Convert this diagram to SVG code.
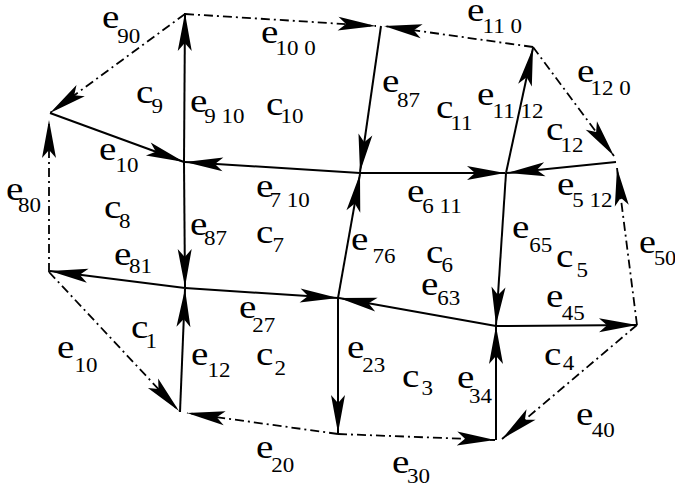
<svg xmlns="http://www.w3.org/2000/svg" width="675" height="491" viewBox="0 0 675 491" font-family="Liberation Serif, serif">
<style>
.s{stroke:#000;stroke-width:2;fill:none;marker-end:url(#ah)}
.d{stroke:#000;stroke-width:1.8;fill:none;stroke-dasharray:9 4 2 4;marker-end:url(#ah)}
.t{font-family:'Liberation Serif',serif;font-size:34px;fill:#000}
.t tspan{font-size:20px}
</style>
<defs>
<marker id="ah" markerUnits="userSpaceOnUse" viewBox="-40 -8 41 16" markerWidth="41" markerHeight="16" refX="0" refY="0" orient="auto" overflow="visible">
<path d="M0,0 L-38,-7 L-30,0 L-38,7 Z" fill="#000"/>
</marker>
</defs>
<rect width="675" height="491" fill="#fff"/>
<g id="connectors">
<g id="e_90"><line class="d" x1="185" y1="14" x2="50" y2="113"/><text class="t" font-family="Liberation Serif" transform="translate(102 28) scale(1.15 1)">e<tspan x="13.3" y="15">90</tspan></text></g>
<g id="e_10_0"><line class="d" x1="185" y1="14" x2="376" y2="26"/><text class="t" font-family="Liberation Serif" transform="translate(261 43) scale(1.15 1)">e<tspan x="12.6" y="12">10 0</tspan></text></g>
<g id="e_11_0"><line class="d" x1="533" y1="47" x2="384" y2="26"/><text class="t" font-family="Liberation Serif" transform="translate(467 21) scale(1.15 1)">e<tspan x="13.5" y="12">11 0</tspan></text></g>
<g id="e_12_0"><line class="d" x1="533" y1="47" x2="614" y2="156"/><text class="t" font-family="Liberation Serif" transform="translate(577 82) scale(1.15 1)">e<tspan x="11.7" y="13">12 0</tspan></text></g>
<g id="e_9_10"><line class="s" x1="184" y1="162" x2="185" y2="13"/><text class="t" font-family="Liberation Serif" transform="translate(190 112) scale(1.15 1)">e<tspan x="12.4" y="11">9 10</tspan></text></g>
<g id="e_10_upper"><line class="s" x1="50" y1="113" x2="184" y2="162"/><text class="t" font-family="Liberation Serif" transform="translate(99 160) scale(1.15 1)">e<tspan x="14.3" y="12">10</tspan></text></g>
<g id="e_7_10"><line class="s" x1="360" y1="173" x2="185" y2="162"/><text class="t" font-family="Liberation Serif" transform="translate(256 197) scale(1.15 1)">e<tspan x="11.7" y="10">7 10</tspan></text></g>
<g id="e_80"><line class="d" x1="49" y1="272" x2="49" y2="120"/><text class="t" font-family="Liberation Serif" transform="translate(6 200) scale(1.15 1)">e<tspan x="10.4" y="12">80</tspan></text></g>
<g id="e_87_left"><line class="s" x1="184" y1="162" x2="185" y2="287"/><text class="t" font-family="Liberation Serif" transform="translate(190 235) scale(1.15 1)">e<tspan x="12.2" y="10">87</tspan></text></g>
<g id="e_87_upper"><line class="s" x1="381" y1="26" x2="360" y2="172"/><text class="t" font-family="Liberation Serif" transform="translate(382 92) scale(1.15 1)">e<tspan x="13" y="15">87</tspan></text></g>
<g id="e_11_12"><line class="s" x1="506" y1="173" x2="533" y2="48"/><text class="t" font-family="Liberation Serif" transform="translate(477 105) scale(1.15 1)">e<tspan x="13.5" y="13">11 12</tspan></text></g>
<g id="e_6_11"><line class="s" x1="360" y1="173" x2="505" y2="173"/><text class="t" font-family="Liberation Serif" transform="translate(407 202) scale(1.15 1)">e<tspan x="13.3" y="11">6 11</tspan></text></g>
<g id="e_5_12"><line class="s" x1="616" y1="162" x2="507" y2="173"/><text class="t" font-family="Liberation Serif" transform="translate(557 195) scale(1.15 1)">e<tspan x="13.3" y="12">5 12</tspan></text></g>
<g id="e_65"><line class="s" x1="506" y1="173" x2="496" y2="325"/><text class="t" font-family="Liberation Serif" transform="translate(512 238) scale(1.15 1)">e<tspan x="15" y="14">65</tspan></text></g>
<g id="e_50"><line class="d" x1="637" y1="325" x2="617" y2="168"/><text class="t" font-family="Liberation Serif" transform="translate(639 253) scale(1.12 1)">e<tspan x="13.3" y="12">50</tspan></text></g>
<g id="e_76"><line class="s" x1="338" y1="298" x2="360" y2="174"/><text class="t" font-family="Liberation Serif" transform="translate(351 250) scale(1.15 1)">e<tspan x="18.7" y="13">76</tspan></text></g>
<g id="e_63"><line class="s" x1="496" y1="326" x2="339" y2="298"/><text class="t" font-family="Liberation Serif" transform="translate(421 295) scale(1.15 1)">e<tspan x="14.2" y="10">63</tspan></text></g>
<g id="e_45"><line class="s" x1="496" y1="326" x2="637" y2="325"/><text class="t" font-family="Liberation Serif" transform="translate(546 307) scale(1.15 1)">e<tspan x="13.7" y="13">45</tspan></text></g>
<g id="e_23"><line class="s" x1="338" y1="298" x2="338" y2="433"/><text class="t" font-family="Liberation Serif" transform="translate(347 358) scale(1.15 1)">e<tspan x="13.3" y="14">23</tspan></text></g>
<g id="e_34"><line class="s" x1="496" y1="440" x2="496" y2="326"/><text class="t" font-family="Liberation Serif" transform="translate(457 388) scale(1.15 1)">e<tspan x="10.4" y="15">34</tspan></text></g>
<g id="e_40"><line class="d" x1="637" y1="325" x2="502" y2="439"/><text class="t" font-family="Liberation Serif" transform="translate(576 425) scale(1.15 1)">e<tspan x="13.7" y="12">40</tspan></text></g>
<g id="e_30"><line class="d" x1="338" y1="434" x2="495" y2="440"/><text class="t" font-family="Liberation Serif" transform="translate(392 473) scale(1.15 1)">e<tspan x="13" y="10">30</tspan></text></g>
<g id="e_81"><line class="s" x1="185" y1="288" x2="50" y2="271"/><text class="t" font-family="Liberation Serif" transform="translate(114 265) scale(1.15 1)">e<tspan x="13" y="8">81</tspan></text></g>
<g id="e_27"><line class="s" x1="185" y1="288" x2="338" y2="298"/><text class="t" font-family="Liberation Serif" transform="translate(239 318) scale(1.15 1)">e<tspan x="11.6" y="14">27</tspan></text></g>
<g id="e_10_lower"><line class="d" x1="49" y1="272" x2="179" y2="411"/><text class="t" font-family="Liberation Serif" transform="translate(57 358) scale(1.15 1)">e<tspan x="15.2" y="14">10</tspan></text></g>
<g id="e_12"><line class="s" x1="180" y1="412" x2="185" y2="289"/><text class="t" font-family="Liberation Serif" transform="translate(191 365) scale(1.15 1)">e<tspan x="14.3" y="12">12</tspan></text></g>
<g id="e_20"><line class="d" x1="338" y1="434" x2="187" y2="413"/><text class="t" font-family="Liberation Serif" transform="translate(256 458) scale(1.15 1)">e<tspan x="13.3" y="14">20</tspan></text></g>
</g>
<g id="cells">
<g id="c_1"><text class="t" font-family="Liberation Serif" transform="translate(131 338) scale(1.15 1)">c<tspan x="12.6" y="10">1</tspan></text></g>
<g id="c_2"><text class="t" font-family="Liberation Serif" transform="translate(256 365) scale(1.15 1)">c<tspan x="16.1" y="10">2</tspan></text></g>
<g id="c_3"><text class="t" font-family="Liberation Serif" transform="translate(402 387) scale(1.15 1)">c<tspan x="17" y="8">3</tspan></text></g>
<g id="c_4"><text class="t" font-family="Liberation Serif" transform="translate(544 365) scale(1.15 1)">c<tspan x="16.3" y="5">4</tspan></text></g>
<g id="c_5"><text class="t" font-family="Liberation Serif" transform="translate(556 267) scale(1.15 1)">c<tspan x="17.8" y="10">5</tspan></text></g>
<g id="c_6"><text class="t" font-family="Liberation Serif" transform="translate(426 263) scale(1.15 1)">c<tspan x="13.5" y="9">6</tspan></text></g>
<g id="c_7"><text class="t" font-family="Liberation Serif" transform="translate(256 243) scale(1.15 1)">c<tspan x="14.3" y="9">7</tspan></text></g>
<g id="c_8"><text class="t" font-family="Liberation Serif" transform="translate(104 218) scale(1.15 1)">c<tspan x="13" y="10">8</tspan></text></g>
<g id="c_9"><text class="t" font-family="Liberation Serif" transform="translate(136 103) scale(1.15 1)">c<tspan x="13.5" y="10">9</tspan></text></g>
<g id="c_10"><text class="t" font-family="Liberation Serif" transform="translate(266 115) scale(1.15 1)">c<tspan x="12.6" y="8">10</tspan></text></g>
<g id="c_11"><text class="t" font-family="Liberation Serif" transform="translate(436 118) scale(1.15 1)">c<tspan x="12.6" y="12">11</tspan></text></g>
<g id="c_12"><text class="t" font-family="Liberation Serif" transform="translate(546 140) scale(1.15 1)">c<tspan x="12.6" y="12">12</tspan></text></g>
</g>
</svg>
